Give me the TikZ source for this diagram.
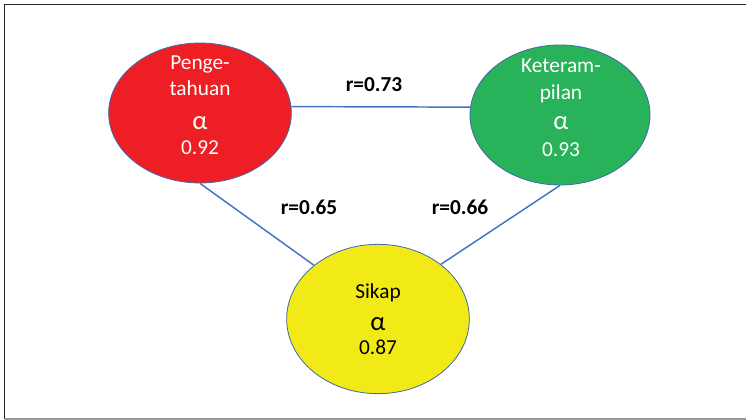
\documentclass[tikz,border=0pt]{standalone}
\usepackage{fontspec}
\setmainfont{Carlito}
\usetikzlibrary{shapes.geometric}
\definecolor{cred}{RGB}{237,31,36}
\definecolor{cgreen}{RGB}{40,178,90}
\definecolor{cyellow}{RGB}{242,234,22}
\definecolor{cline}{RGB}{68,114,196}
\definecolor{cbord}{RGB}{65,105,170}
\tikzset{
  bubble/.style={ellipse, draw=cbord, line width=0.6pt, inner sep=0pt},
  conn/.style={draw=cline, line width=1.1pt},
  txt/.style={anchor=base, inner sep=0pt, font=\fontsize{16}{19}\selectfont},
  alf/.style={anchor=base, inner sep=0pt, font=\fontsize{20}{22}\selectfont},
  lbl/.style={anchor=base, inner sep=0pt, font=\fontsize{16}{19}\selectfont\bfseries}
}
\begin{document}
\begin{tikzpicture}[x=0.75pt, y=-0.75pt]
\useasboundingbox (0,0) rectangle (746,420);
% frame
\draw[line width=1.2pt, black!85] (4.5,419) -- (4.5,4.5) -- (746,4.5);
\draw[line width=1pt, black!40] (4.5,419) -- (746,419);
% ellipses
\node[bubble, fill=cred, minimum width=137pt, minimum height=105pt] (red) at (200,113) {};
\node[bubble, fill=cgreen, minimum width=135pt, minimum height=105pt] (green) at (560,115) {};
\node[bubble, fill=cyellow, minimum width=137pt, minimum height=112pt] (yellow) at (378,319) {};
% connectors
\draw[conn] (red.4) -- (green.175);
\draw[conn] (red.south) -- (yellow.140);
\draw[conn] (green.south) -- (yellow.41);
% labels
\node[lbl] (r1) at (374,92) {r=0.73};
\node[lbl] (r2) at (309,215) {r=0.65};
\node[lbl] (r3) at (460,215) {r=0.66};
% red text
\node[txt, text=white] (rt1) at (200,70) {Penge-};
\node[txt, text=white] (rt2) at (200,96) {tahuan};
\node[alf, text=white] (rt3) at (200,130) {α};
\node[txt, text=white] (rt4) at (200,155) {0.92};
% green text
\node[txt, text=white] (gt1) at (561,73) {Keteram-};
\node[txt, text=white] (gt2) at (561,100) {pilan};
\node[alf, text=white] (gt3) at (561,130) {α};
\node[txt, text=white] (gt4) at (561,157) {0.93};
% yellow text
\node[txt] (yt1) at (378,299) {Sikap};
\node[alf] (yt2) at (378,330) {α};
\node[txt] (yt3) at (378,354) {0.87};
\end{tikzpicture}
\end{document}
